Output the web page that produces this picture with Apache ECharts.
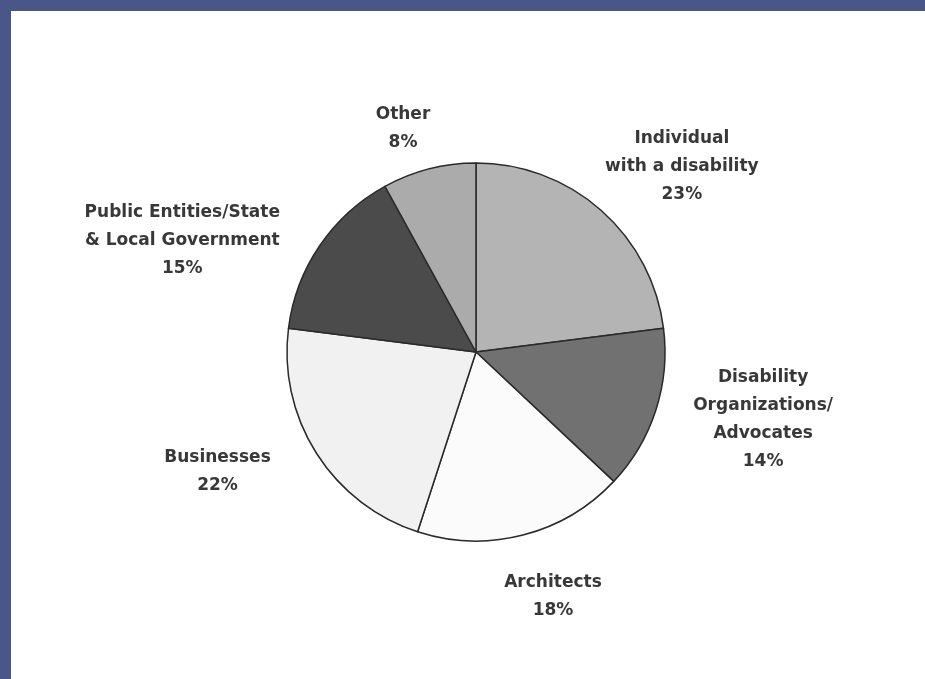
<!DOCTYPE html>
<html>
<head>
<meta charset="utf-8">
<script src="https://cdn.jsdelivr.net/npm/echarts@6/dist/echarts.min.js"></script>
<style>
html,body{margin:0;padding:0;background:#fff;}
#chart{width:925px;height:679px;}
</style>
</head>
<body>
<div id="chart"></div>
<script>
// ---- data ----
var categories = [
  "Individual\nwith a disability",
  "Disability\nOrganizations/\nAdvocates",
  "Architects",
  "Businesses",
  "Public Entities/State\n& Local Government",
  "Other"
];
var values = [23, 14, 18, 22, 15, 8];
var sliceColors = ["#b4b4b4", "#717171", "#fbfbfb", "#f1f1f1", "#4b4b4b", "#ababab"];

// ---- layout (not data) ----
var CX = 476, CY = 352, R = 189;
var labelDist = [277, 295, 256, 285, 314, 235];   // radial distance of label centre
var labelNudge = [6.6, -4.7, -3.1, 7.5, -13.5, -3.7]; // degrees added to slice mid-angle

var total = values.reduce(function (a, b) { return a + b; }, 0);
var midAngles = [];
(function () {
  var acc = 0;
  for (var i = 0; i < values.length; i++) {
    midAngles.push((acc + values[i] / 2) / total * 360);
    acc += values[i];
  }
})();

var chart = echarts.init(document.getElementById('chart'), null, {renderer: 'canvas'});
chart.setOption({
  backgroundColor: '#ffffff',
  animation: false,
  graphic: [
    {type: 'rect', shape: {x: 0, y: 0, width: 925, height: 11}, style: {fill: '#4a5588'}, z: 100},
    {type: 'rect', shape: {x: 0, y: 0, width: 11, height: 679}, style: {fill: '#4a5588'}, z: 100}
  ],
  series: [{
    type: 'pie',
    center: [CX, CY],
    radius: R,
    startAngle: 90,
    clockwise: true,
    avoidLabelOverlap: false,
    silent: true,
    data: categories.map(function (c, i) {
      return {name: c, value: values[i], itemStyle: {color: sliceColors[i]}};
    }),
    itemStyle: {borderColor: '#2a2a2a', borderWidth: 1.5},
    label: {
      show: true,
      position: 'outside',
      formatter: function (p) { return p.name + '\n' + p.value + '%'; },
      fontFamily: "'DejaVu Sans'",
      fontWeight: 'bold',
      fontSize: 17,
      lineHeight: 28,
      color: '#383838',
      align: 'center'
    },
    labelLine: {show: false},
    labelLayout: function (p) {
      var i = p.dataIndex;
      var a = (midAngles[i] + labelNudge[i]) * Math.PI / 180;
      return {
        x: CX + labelDist[i] * Math.sin(a),
        y: CY - labelDist[i] * Math.cos(a),
        align: 'center',
        verticalAlign: 'middle'
      };
    }
  }]
});
</script>
</body>
</html>
